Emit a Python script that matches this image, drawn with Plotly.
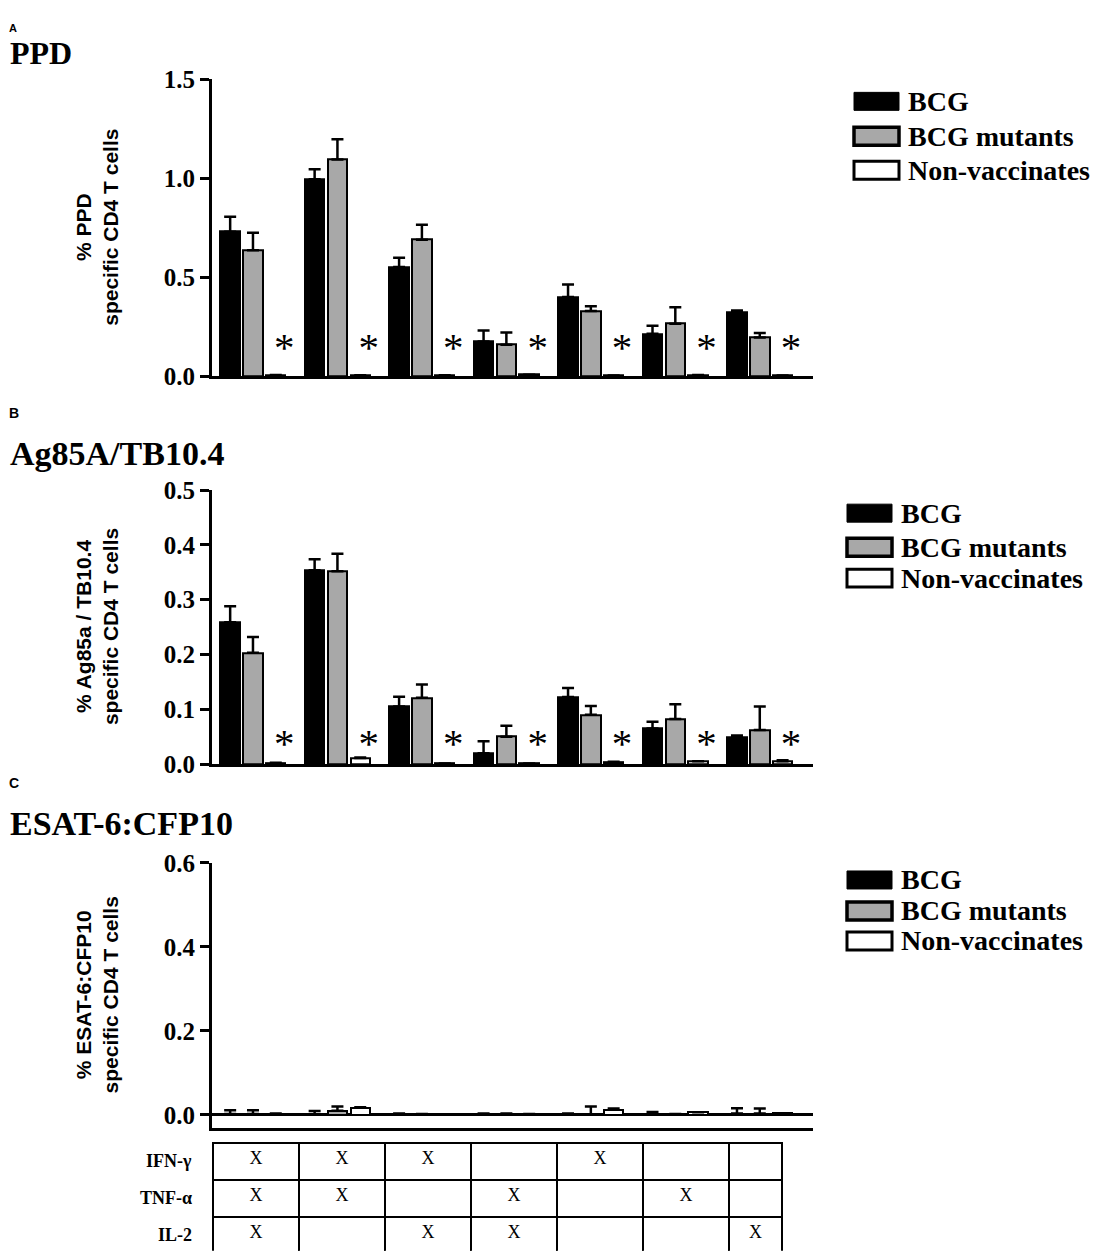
import plotly.graph_objects as go
from plotly.subplots import make_subplots
import numpy as np

# 데이터 (7 cytokine combinations)
groups = np.arange(7)
series = ["BCG", "BCG mutants", "Non-vaccinates"]

# A: PPD
ppd_bcg = [0.73, 0.995, 0.552, 0.175, 0.40, 0.214, 0.321]
ppd_bcg_err = [0.076, 0.051, 0.047, 0.056, 0.064, 0.041, 0.011]
ppd_mut = [0.636, 1.095, 0.690, 0.159, 0.329, 0.265, 0.196]
ppd_mut_err = [0.089, 0.103, 0.076, 0.062, 0.025, 0.084, 0.022]
ppd_non = [0.006, 0.005, 0.005, 0.007, 0.004, 0.006, 0.004]
ppd_non_err = [0, 0, 0, 0, 0, 0, 0]

# B: Ag85A/TB10.4
ag_bcg = [0.259, 0.354, 0.105, 0.0195, 0.1226, 0.065, 0.049]
ag_bcg_err = [0.029, 0.020, 0.018, 0.022, 0.016, 0.012, 0.003]
ag_mut = [0.203, 0.352, 0.121, 0.050, 0.090, 0.082, 0.062]
ag_mut_err = [0.029, 0.032, 0.024, 0.020, 0.016, 0.027, 0.043]
ag_non = [0.0025, 0.011, 0.001, 0.001, 0.004, 0.005, 0.005]
ag_non_err = [0, 0.001, 0, 0, 0, 0, 0.002]

# C: ESAT-6:CFP10
es_bcg = [0.002, 0.0, 0.003, 0.003, 0.003, 0.0, 0.003]
es_bcg_err = [0.009, 0.009, 0, 0, 0, 0.007, 0.013]
es_mut = [0.002, 0.010, 0.002, 0.003, 0.0, 0.002, 0.003]
es_mut_err = [0.009, 0.010, 0, 0, 0.020, 0, 0.012]
es_non = [0.003, 0.017, 0.001, 0.002, 0.012, 0.006, 0.004]
es_non_err = [0, 0.001, 0, 0, 0.003, 0, 0]

# 사이토카인 표
cytokines = ["IFN-γ", "TNF-α", "IL-2"]
ifn_g = [1, 1, 1, 0, 1, 0, 0]
tnf_a = [1, 1, 0, 1, 0, 1, 0]
il_2 = [1, 0, 1, 1, 0, 0, 1]

W, H = 1102, 1257
# 참조 이미지 픽셀 -> paper 좌표 (렌더링 오프셋 보정)
def X(px):
    return (px - 6) / W
def Y(py):
    return 1 - max((py - 20.6) / 0.979, 0) / H

colors = ["black", "#a8a8a8", "white"]
line_w = [1, 3.5, 3]
offsets = [-0.27, 0.0, 0.27]
serif = "Liberation Serif"
sans = "Liberation Sans"

fig = make_subplots(rows=3, cols=1)

panels = [
    (1, [ppd_bcg, ppd_mut, ppd_non], [ppd_bcg_err, ppd_mut_err, ppd_non_err], 0.128),
    (2, [ag_bcg, ag_mut, ag_non], [ag_bcg_err, ag_mut_err, ag_non_err], 0.031),
    (3, [es_bcg, es_mut, es_non], [es_bcg_err, es_mut_err, es_non_err], None),
]

for row, vals, errs, star_y in panels:
    for k in range(3):
        fig.add_trace(go.Bar(x=groups + offsets[k], y=vals[k], width=0.23,
                             name=series[k], showlegend=False,
                             marker=dict(color=colors[k], line=dict(color="black", width=2)),
                             error_y=dict(type="data", symmetric=False, array=errs[k],
                                          arrayminus=[0] * 7, color="black",
                                          thickness=2.5, width=6)),
                      row=row, col=1)
    if star_y is not None:
        # 유의성 표시
        fig.add_trace(go.Scatter(x=groups + offsets[2] + 0.1, y=[star_y] * 7,
                                 mode="text", text=["*"] * 7, showlegend=False,
                                 textfont=dict(family=serif, size=41, color="black")),
                      row=row, col=1)

xdom = [X(210), X(811)]
ydoms = [[Y(376), Y(79)], [Y(764), Y(490)], [Y(1128), Y(863)]]
yranges = [[0, 1.5], [0, 0.5], [-0.031, 0.6]]
ydticks = [0.5, 0.1, 0.2]

for i in range(3):
    fig.update_xaxes(domain=xdom, range=[-0.485, 6.63], showline=True, linecolor="black",
                     linewidth=3, showticklabels=False, ticks="", showgrid=False,
                     zeroline=False, row=i + 1, col=1)
    fig.update_yaxes(domain=ydoms[i], range=yranges[i], dtick=ydticks[i], tick0=0,
                     tickformat=".1f", showline=True, linecolor="black", linewidth=3,
                     ticks="outside", ticklen=9, tickwidth=2.5, tickcolor="black",
                     showgrid=False, zeroline=(i == 2), zerolinecolor="black",
                     zerolinewidth=3,
                     tickfont=dict(family=serif, size=25, color="black", weight="bold"),
                     row=i + 1, col=1)

# 표 (cytokine combinations) - 라벨 열, 여백 열, 7개 조합 열
mark = lambda v: "X" if v else ""
header_vals = ["<b>" + cytokines[0] + "</b>", ""] + [mark(v) for v in ifn_g]
cell_vals = [["<b>" + cytokines[1] + "</b>", "<b>" + cytokines[2] + "</b>"], ["", ""]]
cell_vals += [[mark(t), mark(l)] for t, l in zip(tnf_a, il_2)]
line_cols = ["white", "white"] + ["black"] * 7
aligns = ["right", "center"] + ["center"] * 7
fig.add_trace(go.Table(
    domain=dict(x=[X(110), X(781)], y=[0, Y(1143)]),
    columnwidth=[88, 13] + [86] * 6 + [53],
    header=dict(values=header_vals, height=37, align=aligns, fill_color="white",
                line=dict(color=line_cols, width=2),
                font=dict(family=serif, size=18, color="black")),
    cells=dict(values=cell_vals, height=37, align=aligns, fill_color="white",
               line=dict(color=line_cols, width=2),
               font=dict(family=serif, size=18, color="black"))))

# 패널 제목 / y축 제목
titles = [("A", "PPD", 11, 53), ("B", "Ag85A/TB10.4", 413, 453), ("C", "ESAT-6:CFP10", 783, 823)]
ytitles = ["% PPD<br>specific CD4 T cells",
           "% Ag85a / TB10.4<br>specific CD4 T cells",
           "% ESAT-6:CFP10<br>specific CD4 T cells"]
ann = []
shapes = []
for i, (letter, name, ly, ny) in enumerate(titles):
    ann.append(dict(text="<b>" + letter + "</b>", x=X(6), y=Y(ly), xref="paper", yref="paper",
                    xanchor="left", yanchor="top" if i == 0 else "middle", showarrow=False,
                    borderpad=0, font=dict(family=sans, size=11 if i == 0 else 14, color="black")))
    ann.append(dict(text="<b>" + name + "</b>", x=X(7), y=Y(ny), xref="paper", yref="paper",
                    xanchor="left", yanchor="middle", showarrow=False, borderpad=0,
                    font=dict(family=serif, size=32 if i == 0 else 34, color="black")))
    ann.append(dict(text="<b>" + ytitles[i] + "</b>", x=X(95), y=sum(ydoms[i]) / 2,
                    xref="paper", yref="paper", xanchor="center", yanchor="middle",
                    textangle=-90, showarrow=False,
                    font=dict(family=sans, size=21, color="black")))

# 범례 (패널별)
legend_pos = [(852, [101, 136, 170]), (845, [513, 547, 578]), (845, [880, 911, 941])]
for sx, rows in legend_pos:
    for k in range(3):
        shapes.append(dict(type="rect", xref="paper", yref="paper",
                           x0=X(sx), x1=X(sx + 45), y0=Y(rows[k] + 9), y1=Y(rows[k] - 9),
                           fillcolor=colors[k], line=dict(color="black", width=line_w[k])))
        ann.append(dict(text="<b>" + series[k] + "</b>", x=X(sx + 52), y=Y(rows[k]),
                        xref="paper", yref="paper", xanchor="left", yanchor="middle",
                        showarrow=False, font=dict(family=serif, size=28, color="black")))

fig.update_layout(
    width=W, height=H, margin=dict(l=0, r=0, t=0, b=0),
    paper_bgcolor="white", plot_bgcolor="white",
    barmode="overlay", bargap=0, showlegend=False,
    annotations=ann, shapes=shapes,
)

fig.write_html("out.html")
